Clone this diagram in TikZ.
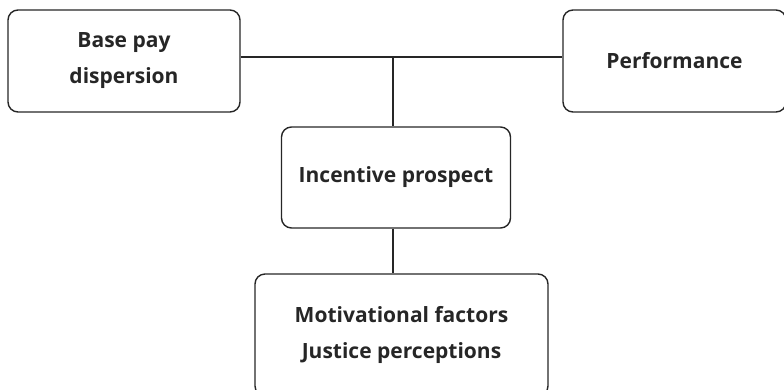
\documentclass[tikz,border=0pt]{standalone}
\usepackage{fontspec}
\newfontfamily\boxfont{Open Sans}[BoldFont={Open Sans Bold}]
\begin{document}
\begin{tikzpicture}[x=1pt, y=-1pt,
		box/.style={draw=black!85, rounded corners=10pt, line width=1.4pt, align=center,
				font=\boxfont\bfseries\fontsize{21}{36}\selectfont, text=black!85, inner sep=0pt},
		link/.style={draw=black!85, line width=1.3pt}]

	\clip (0,0) rectangle (784,389);
	\useasboundingbox (0,0) rectangle (784,389);

	% top row
	\node[box, minimum width=232pt, minimum height=102pt] (base) at (124,61) {Base pay\\dispersion};
	\node[box, minimum width=223pt, minimum height=102pt] (perf) at (674.5,61) {Performance};
	\coordinate (joint) at (393,57);

	% middle and bottom
	\node[box, minimum width=229pt, minimum height=101pt] (incent) at (396,177.5) {Incentive prospect};
	\node[box, minimum width=293pt, minimum height=122pt] (motiv) at (401.5,335) {Motivational factors\\Justice perceptions};

	% connectors
	\draw[link] (base.east |- joint) -- (perf.west |- joint);
	\draw[link] (joint) -- (joint |- incent.north);
	\draw[link] (incent.south -| joint) -- (motiv.north -| joint);
\end{tikzpicture}
\end{document}
